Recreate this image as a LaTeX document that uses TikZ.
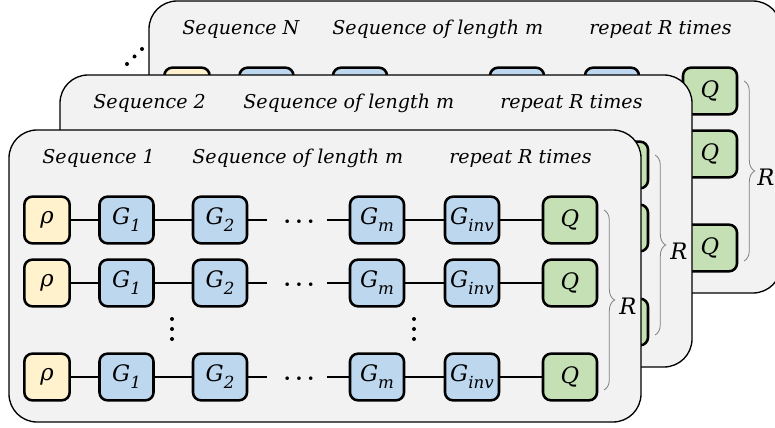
\documentclass[tikz,border=0pt]{standalone}
\usepackage{fontspec}
\setmainfont{DejaVu Serif}
\usetikzlibrary{decorations.pathreplacing}
\definecolor{panelfill}{HTML}{F2F2F2}
\definecolor{rhofill}{HTML}{FFF2CC}
\definecolor{gfill}{HTML}{BDD7EE}
\definecolor{qfill}{HTML}{C5E0B4}
\definecolor{bracegray}{HTML}{808080}
\newcommand\gsub[1]{\raisebox{-0.6ex}{\fontsize{12.5}{12.5}\selectfont #1}}
\tikzset{
 panelbox/.style={draw=black, line width=1pt, fill=panelfill, rounded corners=21pt},
 gatebox/.style={draw=black, line width=1.9pt, rounded corners=6pt, minimum height=35pt, inner sep=0pt, font=\fontsize{17}{20}\selectfont\itshape},
 rhobox/.style={gatebox, fill=rhofill, minimum width=34pt},
 gbox/.style={gatebox, fill=gfill, minimum width=40.5pt},
 qbox/.style={gatebox, fill=qfill, minimum width=40.5pt},
 wire/.style={line width=1.5pt},
 titletext/.style={font=\fontsize{14.3}{17}\selectfont\itshape, anchor=west, inner sep=0pt},
 rbrace/.style={decorate, decoration={brace, amplitude=8pt}, draw=bracegray, line width=0.6pt},
 dotmark/.style={fill=black, circle, inner sep=0pt, minimum size=3pt},
 hdots/.style={font=\fontsize{16}{20}\selectfont\boldmath, inner sep=0pt},
 rlabel/.style={font=\fontsize{17}{20}\selectfont\itshape, inner sep=0pt}
}
% frame, titles, Q column, brace and R of one panel
% #1 name, #2 dx, #3 dy, #4 sequence id, #5 Q text (empty if hidden), #6 x of R label
\newcommand\panelframe[6]{%
\begin{scope}[shift={(#2,#3)}]
 \path[panelbox] (9,130) rectangle (641,422);
 \node[titletext] (#1ta) at (42,158) {Sequence #4};
 \node[titletext] (#1tb) at (192,158) {Sequence of length m};
 \node[titletext] (#1tc) at (449,158) {repeat R times};
 \foreach \r/\y in {a/220, b/283, c/377} {
   \node[qbox] (#1q\r) at (570,\y) {#5};
 }
 \coordinate (#1bt) at (604,210);
 \coordinate (#1bb) at (604,390);
 \draw[rbrace] (#1bt) -- (#1bb);
 \node[rlabel] (#1R) at (#6,306) {R};
\end{scope}}
\begin{document}
\begin{tikzpicture}[x=0.75pt, y=-0.75pt]
\useasboundingbox (0,0) rectangle (775,428);
\clip (0,0) rectangle (775,428);
% ---- panel N (back) ----
\panelframe{pn}{140}{-129}{N}{Q}{626}
\begin{scope}[shift={(140,-129)}]
 \node[rhobox] (pnrho) at (47,220) {};
 \node[gbox] (pnga) at (126.5,220) {};
 \node[gbox] (pngb) at (220,220) {};
 \node[gbox] (pngm) at (377,220) {};
 \node[gbox] (pngi) at (472,220) {};
\end{scope}
% ---- panel 2 ----
\panelframe{pb}{51}{-55}{2}{}{628}
% ---- panel 1 (front) ----
\panelframe{pa}{0}{0}{1}{Q}{628}
\foreach \r/\y in {a/220, b/283, c/377} {
  \node[rhobox] (rho\r) at (47,\y) {ρ};
  \node[gbox] (ga\r) at (126.5,\y) {G\gsub{1}};
  \node[gbox] (gb\r) at (220,\y) {G\gsub{2}};
  \node[gbox] (gm\r) at (377,\y) {G\gsub{m}};
  \node[gbox] (gi\r) at (472,\y) {G\gsub{inv}};
  \coordinate (e\r) at (267,\y);
  \coordinate (s\r) at (327,\y);
  \node[hdots] (dots\r) at (299,\y+2) {$\cdots$};
  \draw[wire] (rho\r) -- (ga\r);
  \draw[wire] (ga\r) -- (gb\r);
  \draw[wire] (gb\r) -- (e\r);
  \draw[wire] (s\r) -- (gm\r);
  \draw[wire] (gm\r) -- (gi\r);
  \draw[wire] (gi\r) -- (paq\r);
}
\foreach \k/\y in {1/319, 2/329, 3/339} {
  \node[dotmark] (va\k) at (172,\y) {};
  \node[dotmark] (vb\k) at (414,\y) {};
}
% ---- diagonal dots ----
\node[dotmark] (dd1) at (127,64) {};
\node[dotmark] (dd2) at (134.5,56.5) {};
\node[dotmark] (dd3) at (142,49) {};
\end{tikzpicture}
\end{document}
